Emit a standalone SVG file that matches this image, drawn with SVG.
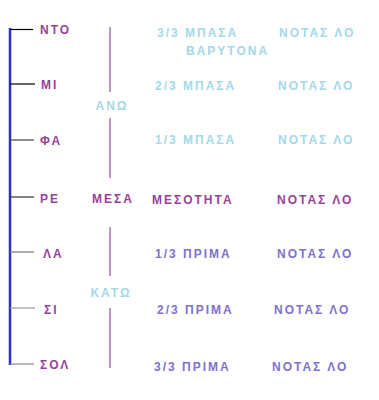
<svg xmlns="http://www.w3.org/2000/svg" width="379" height="400" viewBox="0 0 379 400">
<style>
text{font-family:"Liberation Sans","DejaVu Sans",sans-serif;font-size:12px;letter-spacing:2px;font-weight:bold}
.note{fill:#9a3f9e}
.up{fill:#a3d8e8}
.mid{fill:#9a3f9e}
.low{fill:#7f70cf}
.tick{stroke-width:1.2}
.vl{stroke:#9a4fa6;stroke-width:1.2}
</style>
<rect width="379" height="400" fill="#ffffff"/>
<g id="connectors">
<line x1="10" y1="28" x2="10" y2="365" stroke="#2a2fc8" stroke-width="2.5"/>
<line class="tick" x1="10" y1="29.5" x2="33" y2="29.5" stroke="#000"/>
<line class="tick" x1="10" y1="84" x2="35" y2="84" stroke="#000"/>
<line class="tick" x1="10" y1="140" x2="34" y2="140" stroke="#444"/>
<line class="tick" x1="10" y1="197" x2="34" y2="197" stroke="#333"/>
<line class="tick" x1="10" y1="252" x2="34" y2="252" stroke="#777"/>
<line class="tick" x1="10" y1="308" x2="35" y2="308" stroke="#999"/>
<line class="tick" x1="10" y1="364" x2="34" y2="364" stroke="#888"/>
<line class="vl" x1="110" y1="27" x2="110" y2="92"/>
<line class="vl" x1="110" y1="118" x2="110" y2="178"/>
<line class="vl" x1="110" y1="227" x2="110" y2="276"/>
<line class="vl" x1="110" y1="308" x2="110" y2="368"/>
</g>
<g id="ntd"><text class="note" x="40" y="34">ΝΤΟ</text></g>
<g id="mi"><text class="note" x="41" y="89">ΜΙ</text></g>
<g id="fa"><text class="note" x="40" y="145">ΦΑ</text></g>
<g id="re"><text class="note" x="40" y="203">ΡΕ</text></g>
<g id="la"><text class="note" x="43" y="258">ΛΑ</text></g>
<g id="si"><text class="note" x="44" y="314">ΣΙ</text></g>
<g id="sol"><text class="note" x="40" y="369">ΣΟΛ</text></g>
<g id="ano"><text class="up" x="112" y="110" text-anchor="middle">ΑΝΩ</text></g>
<g id="mesa"><text class="mid" x="113" y="203" text-anchor="middle">ΜΕΣΑ</text></g>
<g id="kato"><text class="up" x="111" y="297" text-anchor="middle">ΚΑΤΩ</text></g>
<g id="r1"><text class="up" x="157" y="37">3/3 ΜΠΑΣΑ</text><text class="up" x="186" y="55">ΒΑΡΥΤΟΝΑ</text><text class="up" x="279" y="37">ΝΟΤΑΣ  ΛΟ</text></g>
<g id="r2"><text class="up" x="155" y="90">2/3 ΜΠΑΣΑ</text><text class="up" x="278" y="90">ΝΟΤΑΣ  ΛΟ</text></g>
<g id="r3"><text class="up" x="155" y="144">1/3  ΜΠΑΣΑ</text><text class="up" x="278" y="144">ΝΟΤΑΣ  ΛΟ</text></g>
<g id="r4"><text class="mid" x="152" y="204">ΜΕΣΟΤΗΤΑ</text><text class="mid" x="277" y="204">ΝΟΤΑΣ  ΛΟ</text></g>
<g id="r5"><text class="low" x="155" y="258">1/3  ΠΡΙΜΑ</text><text class="low" x="277" y="258">ΝΟΤΑΣ  ΛΟ</text></g>
<g id="r6"><text class="low" x="157" y="314">2/3 ΠΡΙΜΑ</text><text class="low" x="274" y="314">ΝΟΤΑΣ  ΛΟ</text></g>
<g id="r7"><text class="low" x="154" y="371">3/3 ΠΡΙΜΑ</text><text class="low" x="272" y="371">ΝΟΤΑΣ  ΛΟ</text></g>
</svg>
